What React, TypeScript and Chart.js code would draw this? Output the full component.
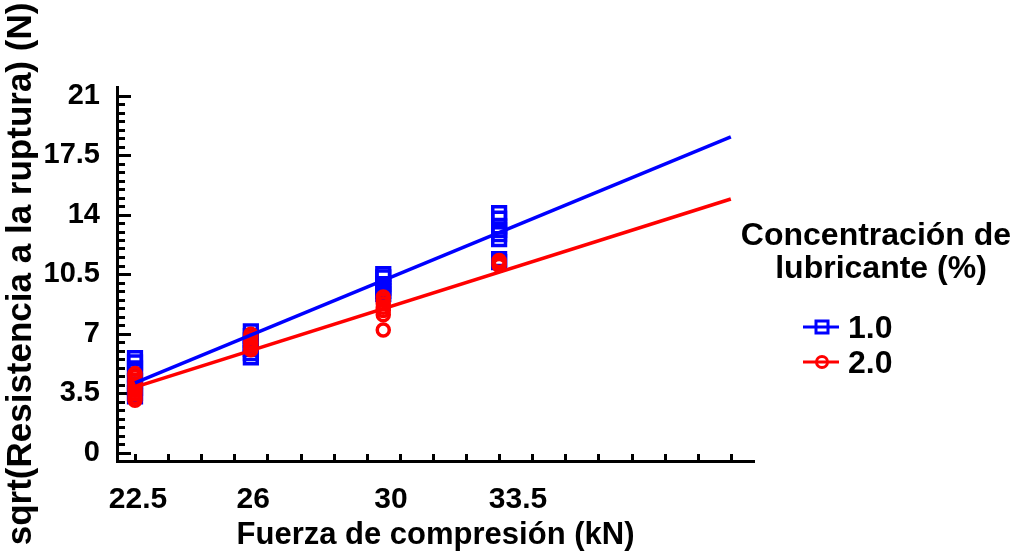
import { useEffect, useRef } from 'react';
import { Chart, registerables } from 'chart.js';

Chart.register(...registerables);

// ---- data ----
const xLevels = [22.5, 26, 30, 33.5];
const blueAt225 = [5.55, 5.3, 4.95, 4.6, 4.2, 3.8, 3.5, 3.3];
const blueAt26 = [7.12, 6.85, 6.6, 6.35, 6.1, 5.85, 5.59];
const blueAt30 = [10.49, 10.3, 9.9, 9.7, 9.5, 9.31];
const blueAt335 = [14.08, 13.76, 13.3, 13.1, 12.85, 12.55, 11.37, 11.2];
const redAt225 = [4.64, 4.45, 4.25, 4.05, 3.85, 3.65, 3.45, 3.25, 3.07];
const redAt26 = [6.95, 6.75, 6.55, 6.35, 6.15, 6.05];
const redAt30 = [9.15, 8.95, 8.75, 8.55, 8.35, 8.1, 7.2];
const redAt335 = [11.3, 11.15, 11.0];

const fitX = [22.5, 40.5];
const blueFitY = [4.09, 18.56];
const redFitY = [3.85, 14.91];

const xTickLabels = ['22.5', '26', '30', '33.5'];
const xTickPositions = [22.59, 26.07, 30.23, 34.07];
const xMinorTicks = [22.5, 23.5, 24.5, 25.5, 26.5, 27.5, 28.5, 29.5, 30.5, 31.5, 32.5, 33.5, 34.5, 35.5, 36.5, 37.5, 38.5, 39.5, 40.5];
const yTickValues = [0, 3.5, 7, 10.5, 14, 17.5, 21];
const yTickLabels = ['0', '3.5', '7', '10.5', '14', '17.5', '21'];
const yMinorStep = 0.5;

const seriesNames = ['1.0', '2.0'];
const seriesColors = ['#0000ff', '#ff0000'];
const legendTitle = ['Concentración de', 'lubricante (%)'];
const xTitle = 'Fuerza de compresión (kN)';
const yTitle = 'sqrt(Resistencia a la ruptura) (N)';

const FONT = '"Liberation Sans", Arial, Helvetica, sans-serif';

function toPoints(groups: number[][]) {
  const pts: { x: number; y: number }[] = [];
  groups.forEach((vals, i) => vals.forEach((v) => pts.push({ x: xLevels[i], y: v })));
  return pts;
}

const tickMarksPlugin = {
  id: 'tickMarks',
  beforeDatasetsDraw(chart: any) {
    const { ctx, chartArea } = chart;
    const xs = chart.scales.x;
    const ys = chart.scales.y;
    ctx.save();
    ctx.strokeStyle = '#000';
    ctx.lineWidth = 3;
    ctx.lineCap = 'butt';
    const yMax = yTickValues[yTickValues.length - 1];
    for (let v = yTickValues[0]; v <= yMax + 1e-9; v += yMinorStep) {
      const isMajor = yTickValues.some((t) => Math.abs(t - v) < 1e-6);
      const py = Math.round(ys.getPixelForValue(v)) + 0.5;
      ctx.beginPath();
      ctx.moveTo(chartArea.left - 1, py);
      ctx.lineTo(chartArea.left + (isMajor ? 14 : 8), py);
      ctx.stroke();
    }
    xMinorTicks.forEach((v) => {
      const px = Math.round(xs.getPixelForValue(v)) + 0.5;
      ctx.beginPath();
      ctx.moveTo(px, chartArea.bottom + 1);
      ctx.lineTo(px, chartArea.bottom - 7);
      ctx.stroke();
    });
    ctx.restore();
  },
};

const legendPlugin = {
  id: 'customLegend',
  afterDraw(chart: any) {
    const ctx = chart.ctx;
    ctx.save();
    ctx.fillStyle = '#000';
    ctx.font = `bold 32px ${FONT}`;
    ctx.textAlign = 'center';
    ctx.textBaseline = 'alphabetic';
    ctx.fillText(legendTitle[0], 876, 245);
    ctx.fillText(legendTitle[1], 881, 278);
    seriesNames.forEach((name, i) => {
      const y = 327 + i * 35;
      const color = seriesColors[i];
      ctx.strokeStyle = color;
      ctx.lineWidth = 3;
      ctx.beginPath();
      ctx.moveTo(803, y);
      ctx.lineTo(839, y);
      ctx.stroke();
      ctx.beginPath();
      if (i === 0) {
        ctx.rect(816, y - 6, 12, 12);
      } else {
        ctx.arc(822, y, 5.5, 0, Math.PI * 2);
      }
      ctx.stroke();
      ctx.fillStyle = '#000';
      ctx.textAlign = 'left';
      ctx.fillText(name, 848, y + 10.5);
    });
    ctx.restore();
  },
};

export default function App() {
  const canvasRef = useRef<HTMLCanvasElement | null>(null);

  useEffect(() => {
    document.body.style.margin = '0';
    const canvas = canvasRef.current;
    if (!canvas) return;

    const bluePts = toPoints([blueAt225, blueAt26, blueAt30, blueAt335]);
    const redPts = toPoints([redAt225, redAt26, redAt30, redAt335]);
    const blueFit = fitX.map((x, i) => ({ x, y: blueFitY[i] }));
    const redFit = fitX.map((x, i) => ({ x, y: redFitY[i] }));

    const chart = new Chart(canvas, {
      type: 'scatter',
      data: {
        datasets: [
          {
            label: seriesNames[0] + ' fit',
            data: blueFit,
            showLine: true,
            borderColor: seriesColors[0],
            borderWidth: 3.5,
            pointRadius: 0,
            order: 1,
          } as any,
          {
            label: seriesNames[1] + ' fit',
            data: redFit,
            showLine: true,
            borderColor: seriesColors[1],
            borderWidth: 3.5,
            pointRadius: 0,
            order: 0,
          } as any,
          {
            label: seriesNames[1],
            data: redPts,
            pointStyle: 'circle',
            pointRadius: 6,
            borderWidth: 3.5,
            pointBorderWidth: 3.5,
            borderColor: seriesColors[1],
            pointBorderColor: seriesColors[1],
            backgroundColor: 'rgba(0,0,0,0)',
            pointBackgroundColor: 'rgba(0,0,0,0)',
            order: 2,
          } as any,
          {
            label: seriesNames[0],
            data: bluePts,
            pointStyle: 'rect',
            pointRadius: 9,
            borderWidth: 3.5,
            pointBorderWidth: 3.5,
            borderColor: seriesColors[0],
            pointBorderColor: seriesColors[0],
            backgroundColor: 'rgba(0,0,0,0)',
            pointBackgroundColor: 'rgba(0,0,0,0)',
            order: 3,
          } as any,
        ],
      },
      options: {
        animation: false,
        responsive: false,
        devicePixelRatio: 1,
        events: [],
        layout: { padding: { left: 0, top: 87, right: 261, bottom: 0 } },
        plugins: { legend: { display: false }, tooltip: { enabled: false } },
        scales: {
          x: {
            type: 'linear',
            min: 21.956,
            max: 41.2,
            grid: { display: false, drawTicks: false },
            border: { display: true, color: '#000', width: 3 },
            afterBuildTicks: (scale: any) => {
              scale.ticks = xTickPositions.map((v) => ({ value: v }));
            },
            afterFit: (scale: any) => {
              scale.height = 91;
            },
            ticks: {
              autoSkip: false,
              maxRotation: 0,
              minRotation: 0,
              padding: 21,
              color: '#000',
              font: { family: FONT, size: 30, weight: 'bold' },
              callback: (_v: any, i: number) => xTickLabels[i],
            },
            title: {
              display: true,
              text: xTitle,
              color: '#000',
              font: { family: FONT, size: 31, weight: 'bold', lineHeight: 1 },
              padding: { top: 0, bottom: 1 },
            },
          },
          y: {
            type: 'linear',
            min: -0.5,
            max: 21.5,
            grid: { display: false, drawTicks: false },
            border: { display: true, color: '#000', width: 3 },
            afterBuildTicks: (scale: any) => {
              scale.ticks = yTickValues.map((v) => ({ value: v }));
            },
            afterFit: (scale: any) => {
              scale.width = 117;
            },
            ticks: {
              autoSkip: false,
              padding: 17,
              color: '#000',
              font: { family: FONT, size: 29, weight: 'bold' },
              callback: (_v: any, i: number) => yTickLabels[i],
            },
            title: {
              display: true,
              text: yTitle,
              color: '#000',
              font: { family: FONT, size: 35, weight: 'bold', lineHeight: 1 },
              padding: { top: 4, bottom: 0 },
            },
          },
        },
      },
      plugins: [tickMarksPlugin, legendPlugin],
    });

    return () => chart.destroy();
  }, []);

  return (
    <div style={{ width: 1015, height: 552, background: '#fff' }}>
      <canvas ref={canvasRef} width={1015} height={552} style={{ display: 'block', width: 1015, height: 552 }} />
    </div>
  );
}
